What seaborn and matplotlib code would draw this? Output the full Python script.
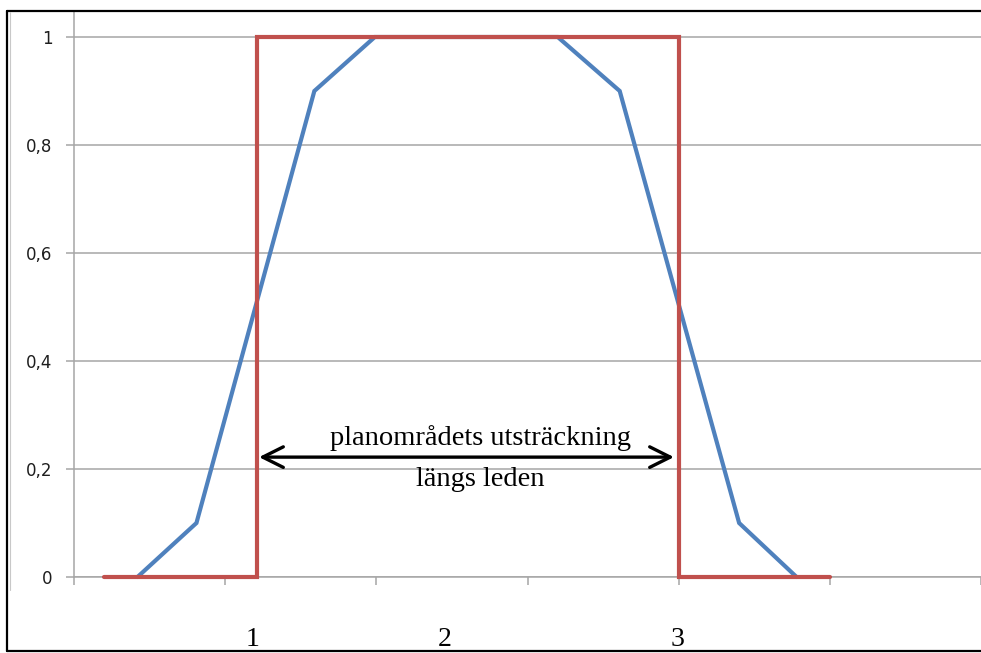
import matplotlib
matplotlib.use("Agg")
import matplotlib.pyplot as plt
import seaborn as sns
import pandas as pd
from matplotlib.lines import Line2D
from matplotlib.ticker import FixedLocator, FixedFormatter

# ---- data ----
blue_x = [0.42, 0.81, 1.59, 1.99, 3.20, 3.61, 4.40, 4.78]
blue_y = [0.0, 0.1, 0.9, 1.0, 1.0, 0.9, 0.1, 0.0]
red_x = [0.20, 1.21, 1.21, 4.00, 4.00, 5.00]
red_y = [0.0, 0.0, 1.0, 1.0, 0.0, 0.0]
y_ticks = [0.0, 0.2, 0.4, 0.6, 0.8, 1.0]
y_tick_labels = ["0", "0,2", "0,4", "0,6", "0,8", "1"]
x_ticks = [0, 1, 2, 3, 4, 5, 6]
bottom_labels = ["1", "2", "3"]
span_start, span_end, span_level = 1.224, 3.969, 0.222
annotation_lines = ["planområdets utsträckning", "längs leden"]

sns.set_theme(style="white")
plt.rcParams['font.family'] = ['DejaVu Sans']

W, H = 981, 653
fig = plt.figure(figsize=(W / 100, H / 100), dpi=100)
ax = fig.add_axes([74 / W, 1 - 577 / H, (W - 74) / W, (577 - 11) / H])

grid_col = "#a6a6a6"
ax.set_xlim(0, 6)
ax.set_ylim(0, 1 + 26 / 540)
ax.yaxis.set_major_locator(FixedLocator(y_ticks))
ax.yaxis.set_major_formatter(FixedFormatter(y_tick_labels))
ax.xaxis.set_major_locator(FixedLocator(x_ticks))
ax.set_xticklabels([])
ax.grid(axis="y", color=grid_col, linewidth=1.1)
ax.grid(axis="x", visible=False)
ax.set_axisbelow(True)
for s in ["top", "right"]:
    ax.spines[s].set_visible(False)
for s in ["left", "bottom"]:
    ax.spines[s].set_color(grid_col)
    ax.spines[s].set_linewidth(1.1)
ax.tick_params(axis="y", which="major", left=True, length=5.5, width=1.1, color=grid_col,
               pad=10, labelsize=12, labelcolor="#1e1e1e")
ax.tick_params(axis="x", which="major", bottom=True, length=6, width=1.1, color=grid_col)

red_df = pd.DataFrame({"x": red_x, "y": red_y})
blue_df = pd.DataFrame({"x": blue_x, "y": blue_y})
sns.lineplot(data=blue_df, x="x", y="y", sort=False, estimator=None, ax=ax,
             color="#4F81BD", linewidth=3.0, zorder=3)
sns.lineplot(data=red_df, x="x", y="y", sort=False, estimator=None, ax=ax,
             color="#C0504D", linewidth=3.0, zorder=4)
for ln in ax.lines:
    ln.set_solid_joinstyle("miter")
    ln.set_clip_on(False)
ax.set_xlabel("")
ax.set_ylabel("")

# double arrow
ax.annotate("", xy=(span_end, span_level), xytext=(span_start, span_level),
            arrowprops=dict(arrowstyle="<->", lw=2.4, color="black",
                            mutation_scale=37, shrinkA=0, shrinkB=0), zorder=6)

serif = ["Liberation Serif", "DejaVu Serif"]
fig.text(480 / W, 1 - 445 / H, annotation_lines[0], family=serif, fontsize=20.5,
         ha="center", va="baseline", color="black")
fig.text(480 / W, 1 - 486 / H, annotation_lines[1], family=serif, fontsize=20.5,
         ha="center", va="baseline", color="black")

# bottom labels (just above the frame's bottom line)
for lab, px in zip(bottom_labels, [253, 445, 677]):
    fig.text(px / W, 1 - 646.5 / H, lab, family=serif, fontsize=20,
             ha="center", va="baseline", color="black")

# outer frame
fw = 1.6
fig.add_artist(Line2D([7 / W, 7 / W], [1 - 650.5 / H, 1 - 11 / H], color="black", lw=fw,
                      transform=fig.transFigure))
fig.add_artist(Line2D([7 / W, 1.01], [1 - 11 / H, 1 - 11 / H], color="black", lw=fw,
                      transform=fig.transFigure))
fig.add_artist(Line2D([7 / W, 1.01], [1 - 650.5 / H, 1 - 650.5 / H], color="black", lw=fw,
                      transform=fig.transFigure))
fig.add_artist(Line2D([9.5 / W, 9.5 / W], [1 - 590 / H, 1 - 12 / H], color="#c8c8c8", lw=0.8,
                      transform=fig.transFigure))

fig.savefig("out.png", dpi=100)
